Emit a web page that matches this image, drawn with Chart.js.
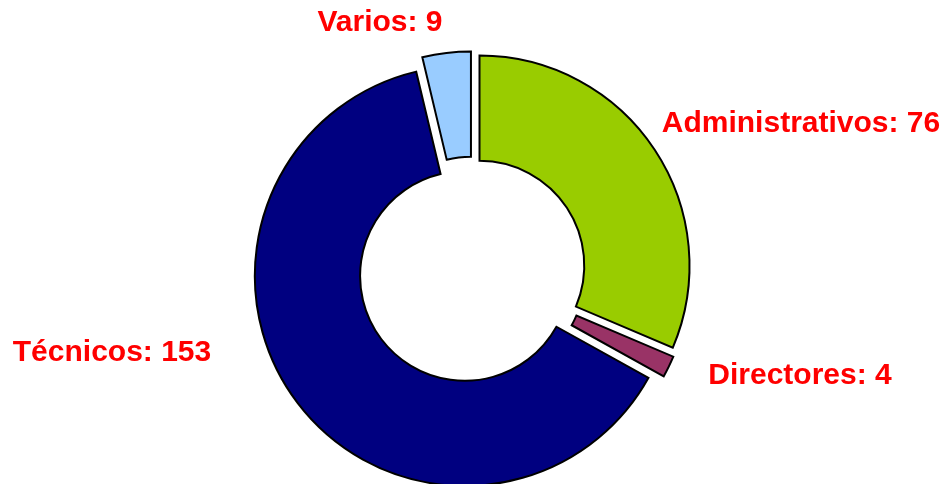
<!DOCTYPE html>
<html>
<head>
<meta charset="utf-8">
<script src="https://cdn.jsdelivr.net/npm/chart.js@4.4.0/dist/chart.umd.min.js"></script>
<style>
  html, body { margin: 0; padding: 0; background: #fff; }
  #wrap { width: 947px; height: 484px; }
</style>
</head>
<body>
<div id="wrap"><canvas id="chart" width="947" height="484"></canvas></div>
<script>
//Data
var categories = ['Administrativos', 'Directores', 'Técnicos', 'Varios'];
var personas = [76, 4, 153, 9];
var colors = ['#99CC00', '#993366', '#000080', '#99CCFF'];

//Label anchors (centre of each text), in pixels
var labelPos = [[801, 124], [800, 376], [112, 353], [380, 23]];
var explode = 9;

//Draw each slice pulled out along its middle angle (Excel style "explode")
var explodePlugin = {
  id: 'explode',
  beforeDatasetDraw: function(chart, args) {
    var ctx = chart.ctx;
    var arcs = args.meta.data;
    for (var i = 0; i < arcs.length; i++) {
      var mid = (arcs[i].startAngle + arcs[i].endAngle) / 2;
      ctx.save();
      ctx.translate(Math.cos(mid) * explode, Math.sin(mid) * explode);
      arcs[i].draw(ctx);
      ctx.restore();
    }
    return false;
  }
};

var labelPlugin = {
  id: 'sliceLabels',
  afterDraw: function(chart) {
    var ctx = chart.ctx;
    ctx.save();
    ctx.font = 'bold 30px "Liberation Sans", Arial, sans-serif';
    ctx.fillStyle = '#FF0000';
    ctx.textAlign = 'center';
    ctx.textBaseline = 'middle';
    for (var i = 0; i < categories.length; i++) {
      ctx.fillText(categories[i] + ': ' + personas[i], labelPos[i][0], labelPos[i][1]);
    }
    ctx.restore();
  }
};

var ctx = document.getElementById('chart').getContext('2d');
var chart = new Chart(ctx, {
  type: 'doughnut',
  data: {
    labels: categories,
    datasets: [{
      data: personas,
      backgroundColor: colors,
      borderColor: '#000000',
      borderWidth: 2,
      borderJoinStyle: 'miter',
      hoverOffset: 0,
      offset: 0
    }]
  },
  options: {
    responsive: false,
    animation: false,
    radius: 210,
    cutout: 106,
    layout: { padding: { top: 57, bottom: 0, left: 0, right: 3 } },
    plugins: {
      legend: { display: false },
      tooltip: { enabled: false }
    }
  },
  plugins: [explodePlugin, labelPlugin]
});
</script>
</body>
</html>
